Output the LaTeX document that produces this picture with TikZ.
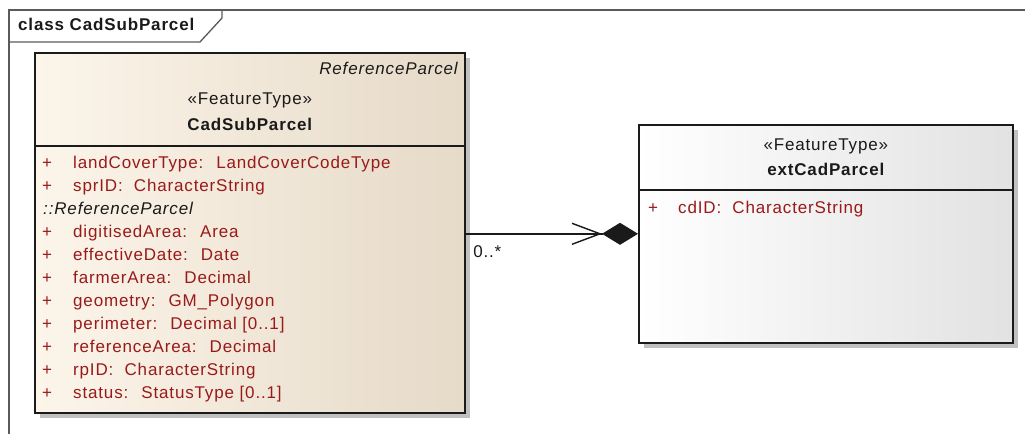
\documentclass[tikz,border=0pt]{standalone}
\usepackage{fontspec}
\setmainfont{Liberation Sans}[LetterSpace=5]
\usetikzlibrary{positioning,arrows.meta,shadows}
\definecolor{ink}      {HTML}{1A1A1A}
\definecolor{frameink} {HTML}{5A5A5A}
\definecolor{attrred}  {HTML}{991A1A}
\definecolor{beigeleft}{HTML}{FCF5EA}
\definecolor{beigeright}{HTML}{E6DAC8}
\definecolor{greyright}{HTML}{E2E2E2}
\definecolor{shade}    {HTML}{C0C0C0}
\tikzset{
  every node/.style={font=\fontsize{17}{20}\selectfont, inner sep=0pt},
  % --- frame and classes
  frm/.style    = {draw=frameink, line width=1.3pt},
  title/.style  = {font=\fontsize{17}{20}\selectfont\bfseries, text=ink},
  cls/.style    = {draw=ink, line width=1.6pt, anchor=north west,
                   drop shadow={shadow xshift=5pt, shadow yshift=-5pt,
                                fill=shade, opacity=1}},
  sep/.style    = {draw=ink, line width=1.4pt},
  % --- texts
  parent/.style = {font=\fontsize{17}{20}\selectfont\itshape, text=ink},
  stereo/.style = {text=ink},
  cname/.style  = {font=\fontsize{17}{20}\selectfont\bfseries, text=ink},
  plus/.style   = {text=attrred},
  attr/.style   = {text=attrred},
  inher/.style  = {font=\fontsize{17}{20}\selectfont\itshape, text=ink},
  mult/.style   = {text=ink},
  % --- edges
  comp/.style   = {draw=ink, line width=1.4pt,
                   -{Straight Barb[length=28pt,width=21pt] Diamond[length=36pt,width=22pt]}},
}
\begin{document}
\begin{tikzpicture}[x=1pt, y=-1pt]
  \useasboundingbox (0,0) rectangle (1025,434);

  % diagram frame with its name tab
  \draw[frm] (9,434) -- (9,10) -- (1025,10);
  \draw[frm] (9,42) -- (200,42) -- (222,18) -- (222,10);
  \node[title, anchor=base west] (ttl) at (18,30) {class CadSubParcel};

  % the two classes
  \node[cls, left color=beigeleft, right color=beigeright,
        minimum width=430, minimum height=360] (sub) at (34,52) {};
  \node[cls, left color=white, right color=greyright,
        minimum width=374, minimum height=218] (ext) at (638,124) {};

  % CadSubParcel
  \draw[sep] (sub.west |- 0,146) -- (sub.east |- 0,146);
  \node[parent, anchor=base east] (subpar) at (458,74) {ReferenceParcel};
  \node[stereo, anchor=base] (subst) at (sub.center |- 0,104) {«FeatureType»};
  \node[cname, anchor=base] (subnm) at (sub.center |- 0,130) {CadSubParcel};
  \foreach \y/\txt [count=\k] in {
      168/{landCoverType:~ LandCoverCodeType},
      191/{sprID:~ CharacterString},
      237/{digitisedArea:~ Area},
      260/{effectiveDate:~ Date},
      283/{farmerArea:~ Decimal},
      306/{geometry:~ GM\_Polygon},
      329/{perimeter:~ Decimal [0..1]},
      352/{referenceArea:~ Decimal},
      375/{rpID:~ CharacterString},
      398/{status:~ StatusType [0..1]}} {
    \node[plus, anchor=base west] (subp\k) at (42,\y) {+};
    \node[attr, anchor=base west] (suba\k) at (73,\y) {\txt};
  }
  \node[inher, anchor=base west] (subinh) at (43,214) {::ReferenceParcel};

  % extCadParcel
  \draw[sep] (ext.west |- 0,190) -- (ext.east |- 0,190);
  \node[stereo, anchor=base] (extst) at (ext.center |- 0,150) {«FeatureType»};
  \node[cname, anchor=base] (extnm) at (ext.center |- 0,175) {extCadParcel};
  \node[plus, anchor=base west] (extp1) at (648,213) {+};
  \node[attr, anchor=base west] (exta1) at (678,213) {cdID:~ CharacterString};

  % composition
  \draw[comp] (sub.east |- ext.west) -- (ext.west)
        node[mult, at start, anchor=north west, xshift=7pt, yshift=-11pt] (mul) {0..*};
\end{tikzpicture}
\end{document}
